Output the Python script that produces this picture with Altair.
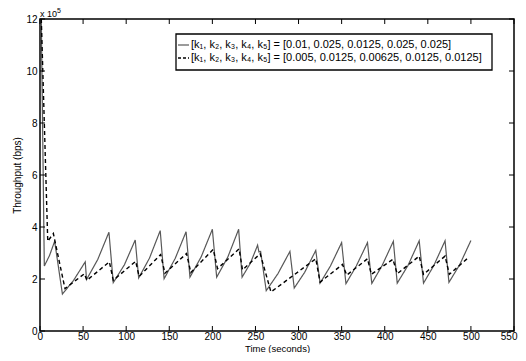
import altair as alt
import pandas as pd

# ---- data (throughput in units of 1e5 bps) ----
solid_t = [1.5, 5, 11, 17, 26, 39, 52.5, 54, 67, 80, 85, 98, 110.5, 114.5, 127, 139.5,
           144, 157, 169.5, 174, 187, 200, 205, 218, 230.5, 234.5, 244, 252.5, 254, 256,
           262.5, 276, 290, 295, 307, 320, 325, 337, 350, 355, 367, 380, 385, 397, 410,
           414.5, 427, 440, 445, 457, 470, 474.5, 487, 500]
solid_v = [12.0, 2.5, 2.9, 3.45, 1.42, 1.95, 2.66, 1.98, 2.75, 3.8, 1.86, 2.55, 3.5, 2.04, 2.8, 3.86,
           2.01, 2.8, 3.82, 2.07, 2.85, 3.91, 2.07, 2.85, 3.91, 2.07, 2.6, 3.3, 3.04, 3.06,
           1.55, 2.2, 3.06, 1.65, 2.25, 3.1, 1.84, 2.5, 3.4, 1.82, 2.5, 3.4, 1.83, 2.52, 3.45,
           1.84, 2.52, 3.47, 1.84, 2.52, 3.47, 1.87, 2.55, 3.48]

dash_t = [1.5, 9, 15.5, 29, 51.5, 54.5, 80.5, 85, 111, 115, 140, 145, 170, 175, 201, 206,
          231, 235, 255.5, 268, 320, 325, 351, 356, 380, 384.5, 409.5, 414.5, 440, 445,
          470, 475, 497]
dash_v = [12.0, 3.45, 3.75, 1.63, 2.2, 1.95, 2.66, 1.95, 2.68, 2.1, 2.94, 2.22, 2.98, 2.25, 3.14, 2.4,
          3.16, 2.35, 2.97, 1.5, 2.78, 1.88, 2.56, 2.15, 2.78, 2.18, 2.76, 2.2, 2.88, 2.18,
          2.88, 2.18, 2.82]

series_names = ["k_a", "k_b"]
legend_labels = [
    "[k\u2081, k\u2082, k\u2083, k\u2084, k\u2085] = [0.01, 0.025, 0.0125, 0.025, 0.025]",
    "[k\u2081, k\u2082, k\u2083, k\u2084, k\u2085] = [0.005, 0.0125, 0.00625, 0.0125, 0.0125]",
]
x_ticks = [0, 50, 100, 150, 200, 250, 300, 350, 400, 450, 500, 550]
y_ticks = [0, 2, 4, 6, 8, 10, 12]

FONT = "Liberation Sans"
W, H = 474, 312

df = pd.concat([
    pd.DataFrame({"t": solid_t, "v": solid_v, "series": series_names[0]}),
    pd.DataFrame({"t": dash_t, "v": dash_v, "series": series_names[1]}),
])
xt = pd.DataFrame({"t": x_ticks})
yt = pd.DataFrame({"v": y_ticks})
leg = pd.DataFrame({"series": series_names, "label": legend_labels})
one = pd.DataFrame({"a": [0]})

x_scale = alt.Scale(domain=[0, 550], nice=False, zero=False)
y_scale = alt.Scale(domain=[0, 12], nice=False, zero=False)

x_axis = alt.Axis(values=x_ticks, title="Time (seconds)", ticks=False, tickSize=0,
                  domain=False, grid=False, labelPadding=0,
                  titleY=20, titleBaseline="alphabetic",
                  labelFlush=True, labelFlushOffset=3,
                  labelFont=FONT, titleFont=FONT, labelFontSize=10,
                  titleFontSize=9.5, labelColor="black", titleColor="black",
                  titleFontWeight="normal")
y_axis = alt.Axis(values=y_ticks, title="Throughput (bps)", ticks=False, tickSize=0,
                  domain=False, grid=False, labelPadding=3, titlePadding=3,
                  labelFlush=False, labelFont=FONT, titleFont=FONT, labelFontSize=10,
                  titleFontSize=10, labelColor="black", titleColor="black",
                  titleFontWeight="normal")

lines = alt.Chart(df).mark_line(clip=True).encode(
    x=alt.X("t:Q", scale=x_scale, axis=x_axis),
    y=alt.Y("v:Q", scale=y_scale, axis=y_axis),
    color=alt.Color("series:N", scale=alt.Scale(domain=series_names, range=["#585858", "#000000"]), legend=None),
    strokeDash=alt.StrokeDash("series:N", scale=alt.Scale(domain=series_names, range=[[1, 0], [4, 3]]), legend=None),
    strokeWidth=alt.StrokeWidth("series:N", scale=alt.Scale(domain=series_names, range=[1.2, 1.4]), legend=None),
    detail="series:N",
)

tick_len = 5
bottom_ticks = alt.Chart(xt).mark_rule(color="black", strokeWidth=1).encode(
    x=alt.X("t:Q", scale=x_scale, axis=x_axis), y=alt.value(H), y2=alt.value(H - tick_len))
top_ticks = alt.Chart(xt).mark_rule(color="black", strokeWidth=1).encode(
    x=alt.X("t:Q", scale=x_scale, axis=x_axis), y=alt.value(0), y2=alt.value(tick_len))
left_ticks = alt.Chart(yt).mark_rule(color="black", strokeWidth=1).encode(
    y=alt.Y("v:Q", scale=y_scale, axis=y_axis), x=alt.value(0), x2=alt.value(tick_len))
right_ticks = alt.Chart(yt).mark_rule(color="black", strokeWidth=1).encode(
    y=alt.Y("v:Q", scale=y_scale, axis=y_axis), x=alt.value(W), x2=alt.value(W - tick_len))

exp_base = alt.Chart(one).mark_text(align="left", baseline="middle", font=FONT, fontSize=9, color="black").encode(
    x=alt.value(0), y=alt.value(-5), text=alt.value("x 10"))
exp_sup = alt.Chart(one).mark_text(align="left", baseline="middle", font=FONT, fontSize=7, color="black").encode(
    x=alt.value(17), y=alt.value(-8), text=alt.value("5"))

# legend
box = alt.Chart(one).mark_rect(fill="white", stroke="black", strokeWidth=1.3).encode(
    x=alt.value(136), x2=alt.value(452), y=alt.value(15), y2=alt.value(51))
leg_solid = alt.Chart(leg[leg.series == series_names[0]]).mark_rule(color="#585858", strokeWidth=1.2).encode(
    x=alt.value(138), x2=alt.value(149), y=alt.value(26))
leg_dash = alt.Chart(leg[leg.series == series_names[1]]).mark_rule(color="black", strokeWidth=1.4, strokeDash=[3, 2]).encode(
    x=alt.value(138), x2=alt.value(149), y=alt.value(39))
leg_text1 = alt.Chart(leg[leg.series == series_names[0]]).mark_text(
    align="left", baseline="middle", font=FONT, fontSize=11, color="black").encode(
    x=alt.value(151), y=alt.value(26), text="label:N")
leg_text2 = alt.Chart(leg[leg.series == series_names[1]]).mark_text(
    align="left", baseline="middle", font=FONT, fontSize=11, color="black").encode(
    x=alt.value(151), y=alt.value(39), text="label:N")

chart = alt.layer(
    lines, bottom_ticks, top_ticks, left_ticks, right_ticks, exp_base, exp_sup,
    box, leg_solid, leg_dash, leg_text1, leg_text2,
).properties(
    width=W, height=H,
    background="white",
    autosize=alt.AutoSizeParams(type="none"),
    padding={"left": 32, "top": 11, "right": 4, "bottom": 22},
).configure_view(
    stroke="black", strokeWidth=1.5
)

chart.save("out.html", embed_options={"renderer": "svg", "actions": False})
